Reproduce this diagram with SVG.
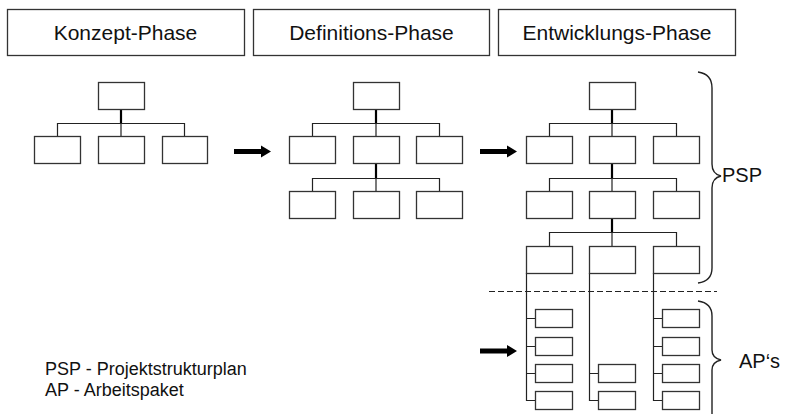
<svg xmlns="http://www.w3.org/2000/svg" width="785" height="414" viewBox="0 0 785 414">
  <style>
    .box { fill: #fff; stroke: #333; stroke-width: 1.3; }
    .ln { fill: none; stroke: #222; stroke-width: 1.2; }
    .stem { fill: none; stroke: #000; stroke-width: 2.2; }
    .brace { fill: none; stroke: #222; stroke-width: 1.4; }
    .hdr { font-family: "Liberation Sans", Arial, sans-serif; font-size: 21px; fill: #111; text-anchor: middle; }
    .lbl { font-family: "Liberation Sans", Arial, sans-serif; font-size: 20px; fill: #111; }
    .legend { font-family: "Liberation Sans", Arial, sans-serif; font-size: 18px; fill: #111; }
    .arrow { fill: #000; }
  </style>
  <defs>
    <path id="bigArrow" d="M0,-2.5 H27 V-6 L37,0 L27,6 V2.5 H0 Z"/>
  </defs>
  <rect width="785" height="414" fill="#fff"/>

  <!-- phase headers -->
  <g id="phase-konzept">
    <rect class="box" x="7.5" y="9.5" width="237" height="46"/>
    <text class="hdr" x="125.5" y="40">Konzept-Phase</text>
  </g>
  <g id="phase-definitions">
    <rect class="box" x="253.5" y="9.5" width="236" height="46"/>
    <text class="hdr" x="371.5" y="40">Definitions-Phase</text>
  </g>
  <g id="phase-entwicklung">
    <rect class="box" x="498.5" y="9.5" width="237" height="46"/>
    <text class="hdr" x="617" y="40">Entwicklungs-Phase</text>
  </g>

  <!-- connectors -->
  <g id="connectors">
    <!-- Konzept tree -->
    <path class="stem" d="M121,109 V123"/>
    <path class="ln" d="M57.5,136 V123.5 H184.5 V136 M121,123 V136"/>
    <!-- Definitions tree -->
    <path class="stem" d="M376,109 V123"/>
    <path class="ln" d="M312.5,136 V123.5 H439.5 V136 M376,123 V136"/>
    <path class="stem" d="M376,164 V178"/>
    <path class="ln" d="M312.5,191 V178.5 H439.5 V191 M376,178 V191"/>
    <!-- Entwicklungs tree -->
    <path class="stem" d="M612,109 V123"/>
    <path class="ln" d="M549.5,136 V123.5 H676.5 V136 M612,123 V136"/>
    <path class="stem" d="M612,164 V178"/>
    <path class="ln" d="M549.5,191 V178.5 H676.5 V191 M612,178 V191"/>
    <path class="stem" d="M612,219 V232"/>
    <path class="ln" d="M549.5,246 V232.5 H676.5 V246 M612,232 V246"/>
    <!-- work package lines -->
    <path class="ln" d="M526.5,273 V400.5 H535 M526.5,318.5 H535 M526.5,346.5 H535 M526.5,373.5 H535"/>
    <path class="ln" d="M589.5,273 V400.5 H598 M589.5,373.5 H598"/>
    <path class="ln" d="M653.5,273 V400.5 H662 M653.5,318.5 H662 M653.5,346.5 H662 M653.5,373.5 H662"/>
    <!-- phase arrows -->
    <use href="#bigArrow" class="arrow" x="234" y="151.5"/>
    <use href="#bigArrow" class="arrow" x="480" y="151.5"/>
    <use href="#bigArrow" class="arrow" x="480" y="351"/>
    <!-- PSP / AP separator -->
    <path d="M489,291.5 H717" stroke="#222" stroke-width="1.2" stroke-dasharray="6 3" fill="none"/>
  </g>

  <!-- Konzept tree nodes -->
  <g id="k-root"><rect class="box" x="98.5" y="82.5" width="46" height="27"/></g>
  <g id="k-c1"><rect class="box" x="34.5" y="136.5" width="46" height="27"/></g>
  <g id="k-c2"><rect class="box" x="98.5" y="136.5" width="46" height="27"/></g>
  <g id="k-c3"><rect class="box" x="162.5" y="136.5" width="45" height="27"/></g>

  <!-- Definitions tree nodes -->
  <g id="d-root"><rect class="box" x="353.5" y="82.5" width="46" height="27"/></g>
  <g id="d-c1"><rect class="box" x="289.5" y="136.5" width="46" height="27"/></g>
  <g id="d-c2"><rect class="box" x="353.5" y="136.5" width="46" height="27"/></g>
  <g id="d-c3"><rect class="box" x="416.5" y="136.5" width="46" height="27"/></g>
  <g id="d-g1"><rect class="box" x="289.5" y="191.5" width="46" height="27"/></g>
  <g id="d-g2"><rect class="box" x="353.5" y="191.5" width="46" height="27"/></g>
  <g id="d-g3"><rect class="box" x="416.5" y="191.5" width="46" height="27"/></g>

  <!-- Entwicklungs tree nodes -->
  <g id="e-root"><rect class="box" x="589.5" y="82.5" width="46" height="27"/></g>
  <g id="e-c1"><rect class="box" x="526.5" y="136.5" width="46" height="27"/></g>
  <g id="e-c2"><rect class="box" x="589.5" y="136.5" width="46" height="27"/></g>
  <g id="e-c3"><rect class="box" x="653.5" y="136.5" width="46" height="27"/></g>
  <g id="e-g1"><rect class="box" x="526.5" y="191.5" width="46" height="27"/></g>
  <g id="e-g2"><rect class="box" x="589.5" y="191.5" width="46" height="27"/></g>
  <g id="e-g3"><rect class="box" x="653.5" y="191.5" width="46" height="27"/></g>
  <g id="e-h1"><rect class="box" x="526.5" y="246.5" width="46" height="27"/></g>
  <g id="e-h2"><rect class="box" x="589.5" y="246.5" width="46" height="27"/></g>
  <g id="e-h3"><rect class="box" x="653.5" y="246.5" width="46" height="27"/></g>

  <!-- work packages -->
  <g id="ap-l1"><rect class="box" x="535.5" y="309.5" width="37" height="18"/></g>
  <g id="ap-l2"><rect class="box" x="535.5" y="337.5" width="37" height="18"/></g>
  <g id="ap-l3"><rect class="box" x="535.5" y="364.5" width="37" height="18"/></g>
  <g id="ap-l4"><rect class="box" x="535.5" y="391.5" width="37" height="18"/></g>
  <g id="ap-m3"><rect class="box" x="598.5" y="364.5" width="37" height="18"/></g>
  <g id="ap-m4"><rect class="box" x="598.5" y="391.5" width="37" height="18"/></g>
  <g id="ap-r1"><rect class="box" x="662.5" y="309.5" width="37" height="18"/></g>
  <g id="ap-r2"><rect class="box" x="662.5" y="337.5" width="37" height="18"/></g>
  <g id="ap-r3"><rect class="box" x="662.5" y="364.5" width="37" height="18"/></g>
  <g id="ap-r4"><rect class="box" x="662.5" y="391.5" width="37" height="18"/></g>

  <!-- braces -->
  <g id="brace-psp">
    <path class="brace" d="M698,72 Q712,74 712,88 V164 Q712,174 721,176 Q712,178 712,188 V268 Q712,281 698,283"/>
    <text class="lbl" x="722" y="182">PSP</text>
  </g>
  <g id="brace-ap">
    <path class="brace" d="M698,301 Q712,303 712,316 V350 Q712,358 721,360 Q712,362 712,370 V426"/>
    <text class="lbl" x="739" y="368">AP‘s</text>
  </g>

  <!-- legend -->
  <g id="legend">
    <text class="legend" x="45" y="375">PSP - Projektstrukturplan</text>
    <text class="legend" x="45" y="396">AP - Arbeitspaket</text>
  </g>
</svg>
